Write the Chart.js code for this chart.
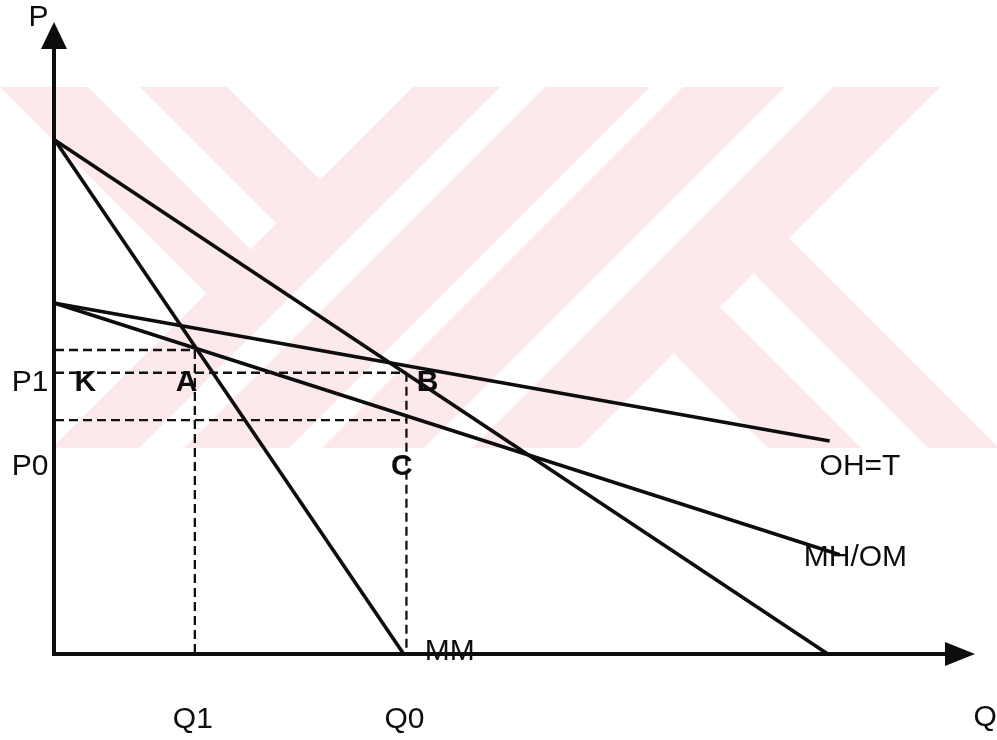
<!DOCTYPE html>
<html>
<head>
<meta charset="utf-8">
<script src="https://cdn.jsdelivr.net/npm/chart.js@4"></script>
<style>
  body { margin: 0; background: #fff; }
  canvas { display: block; }
</style>
</head>
<body>
<canvas id="chartCanvas" width="997" height="740"></canvas>
<script>
// solid curves, values as (Q, P)
const mmQ = [0, 37.9];
const mmP = [81.3, 0];
const demandQ = [0, 84.0];
const demandP = [81.3, 0];
const ohQ = [0, 84.2];
const ohP = [55.5, 33.7];
const mhQ = [0, 85.3];
const mhP = [55.5, 15.7];

// dashed guides: horizontals from the P axis, verticals down to the Q axis
const dashP = [48.1, 44.5, 37.0];
const dashQEnd = [15.2, 38.2, 38.2];
const vertQ = [15.2, 38.2];
const vertPTop = [48.1, 44.5];

// tick labels
const qTickLabels = ['Q1', 'Q0'];
const qTickValues = [15.2, 38.2];
const pTickLabels = ['P1', 'P0'];
const pTickValues = [42.9, 29.6];

// point labels
const pointNames = ['K', 'A', 'B', 'C'];
const pointQ = [3.3, 14.3, 40.5, 37.7];
const pointP = [42.9, 42.9, 42.9, 29.6];

// curve labels
const curveNames = ['OH=T', 'MH/OM', 'MM'];
const curveQ = [87.5, 87.0, 40.2];
const curveP = [29.6, 15.2, 0.3];

const FONT = '"Liberation Sans", Arial, sans-serif';

function toPoints(qs, ps) {
    return qs.map((q, i) => ({ x: q, y: ps[i] }));
}

function solid(qs, ps) {
    return {
        data: toPoints(qs, ps),
        showLine: true,
        borderColor: '#0d0d0d',
        borderWidth: 3.6,
        pointRadius: 0,
        clip: false
    };
}

function dashed(qs, ps) {
    return {
        data: toPoints(qs, ps),
        showLine: true,
        borderColor: '#111',
        borderWidth: 2.3,
        borderDash: [9, 5],
        pointRadius: 0,
        clip: false
    };
}

let datasets = [];
dashP.forEach((p, i) => datasets.push(dashed([0, dashQEnd[i]], [p, p])));
vertQ.forEach((q, i) => datasets.push(dashed([q, q], [vertPTop[i], 0])));
datasets.push(solid(mmQ, mmP));
datasets.push(solid(demandQ, demandP));
datasets.push(solid(ohQ, ohP));
datasets.push(solid(mhQ, mhP));

// faint pink logo behind the diagram, built from diagonal bands
const watermark = {
    id: 'watermark',
    beforeDatasetsDraw(chart) {
        const c = chart.ctx;
        c.save();
        c.beginPath();
        c.rect(0, 87, chart.width, 361);
        c.clip();
        c.fillStyle = '#fde8ec';
        // bands in u = y - x, v = y + x
        const bands = [
            [-1, 87, -3000, 500],
            [-140, -53, -3000, 500],
            [-3000, 3000, 500, 587],
            [-3000, 3000, 632, 737],
            [-3000, 3000, 770, 872],
            [-3000, 3000, 920, 1027],
            [-413, -320, 1027, 3000],
            [-551, -480, 1027, 3000]
        ];
        bands.forEach(b => {
            const corners = [[b[0], b[2]], [b[1], b[2]], [b[1], b[3]], [b[0], b[3]]];
            c.beginPath();
            corners.forEach((uv, k) => {
                const x = (uv[1] - uv[0]) / 2;
                const y = (uv[1] + uv[0]) / 2;
                if (k == 0) c.moveTo(x, y); else c.lineTo(x, y);
            });
            c.closePath();
            c.fill();
        });
        c.restore();
    }
};

// arrowed axes and all the text
const axesAndText = {
    id: 'axesAndText',
    afterDatasetsDraw(chart) {
        const c = chart.ctx;
        const xs = chart.scales.x;
        const ys = chart.scales.y;
        const x0 = xs.getPixelForValue(0);
        const y0 = ys.getPixelForValue(0);
        const xEnd = xs.getPixelForValue(100);
        const yEnd = ys.getPixelForValue(100);
        c.save();
        c.strokeStyle = '#0d0d0d';
        c.fillStyle = '#0d0d0d';
        c.lineWidth = 4;
        c.beginPath();
        c.moveTo(x0 - 1, y0 + 2);
        c.lineTo(x0 - 1, yEnd + 24);
        c.moveTo(x0 - 3, y0);
        c.lineTo(xEnd - 28, y0);
        c.stroke();
        c.beginPath();
        c.moveTo(x0 - 1, yEnd);
        c.lineTo(x0 - 14, yEnd + 27);
        c.lineTo(x0 + 12, yEnd + 27);
        c.closePath();
        c.fill();
        c.beginPath();
        c.moveTo(xEnd, y0);
        c.lineTo(xEnd - 30, y0 - 12);
        c.lineTo(xEnd - 30, y0 + 12);
        c.closePath();
        c.fill();

        c.textBaseline = 'middle';
        c.textAlign = 'center';
        c.font = '30px ' + FONT;
        c.fillText('P', xs.getPixelForValue(-1.8), ys.getPixelForValue(100.6));
        c.fillText('Q', xs.getPixelForValue(101.1), ys.getPixelForValue(-10.1));
        qTickLabels.forEach((t, i) => {
            c.fillText(t, xs.getPixelForValue(qTickValues[i]) - 2, ys.getPixelForValue(-10.4));
        });
        pTickLabels.forEach((t, i) => {
            c.fillText(t, xs.getPixelForValue(-2.7), ys.getPixelForValue(pTickValues[i]));
        });
        curveNames.forEach((t, i) => {
            c.textAlign = t == 'MM' ? 'left' : 'center';
            c.fillText(t, xs.getPixelForValue(curveQ[i]), ys.getPixelForValue(curveP[i]));
        });
        c.textAlign = 'center';
        c.font = 'bold 30px ' + FONT;
        pointNames.forEach((t, i) => {
            c.fillText(t, xs.getPixelForValue(pointQ[i]), ys.getPixelForValue(pointP[i]));
        });
        c.restore();
    }
};

const whiteBg = {
    id: 'whiteBg',
    beforeDraw(chart) {
        chart.ctx.save();
        chart.ctx.fillStyle = '#fff';
        chart.ctx.fillRect(0, 0, chart.width, chart.height);
        chart.ctx.restore();
    }
};

const ctx = document.getElementById('chartCanvas').getContext('2d');
let chart = new Chart(ctx, {
    type: 'scatter',
    data: { datasets: datasets },
    options: {
        responsive: false,
        animation: false,
        devicePixelRatio: 1,
        layout: { padding: { left: 55, right: 22, top: 22, bottom: 86 } },
        plugins: { legend: { display: false }, tooltip: { enabled: false } },
        scales: {
            x: { type: 'linear', min: 0, max: 100, display: false },
            y: { type: 'linear', min: 0, max: 100, display: false }
        }
    },
    plugins: [whiteBg, watermark, axesAndText]
});
</script>
</body>
</html>
